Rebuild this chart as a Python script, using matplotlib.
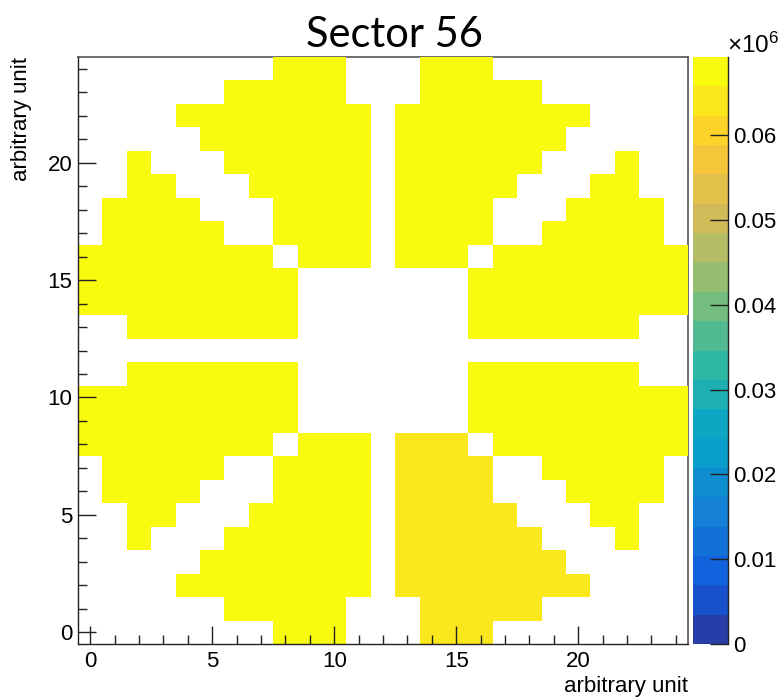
import numpy as np
import matplotlib
matplotlib.use('Agg')
import matplotlib.pyplot as plt
from matplotlib.colors import LinearSegmentedColormap, ListedColormap, BoundaryNorm
from matplotlib.ticker import MultipleLocator

plt.rcParams['font.family'] = ['Liberation Sans', 'DejaVu Sans']
plt.rcParams['mathtext.fontset'] = 'custom'
plt.rcParams['mathtext.rm'] = 'Liberation Sans'

# hit map of the sector, rows from y=24 (top) down to y=0
# '#' full rate, '+' slightly lower rate, '.' empty bin
grid_rows = [
    "........###...###........",  # 24
    "......#####...#####......",  # 23
    "....########.########....",  # 22
    ".....#######.#######.....",  # 21
    "..#...######.######...#..",  # 20
    "..##...#####.#####...##..",  # 19
    ".####...####.####...####.",  # 18
    ".#####..####.####..#####.",  # 17
    "########.###.###.########",  # 16
    "#########.......#########",  # 15
    "#########.......#########",  # 14
    "..#######.......#######..",  # 13
    ".........................",  # 12
    "..#######.......#######..",  # 11
    "#########.......#########",  # 10
    "#########.......#########",  # 9
    "########.###.+++.########",  # 8
    ".#####..####.++++..#####.",  # 7
    ".####...####.++++...####.",  # 6
    "..##...#####.+++++...##..",  # 5
    "..#...######.++++++...#..",  # 4
    ".....#######.+++++++.....",  # 3
    "....########.++++++++....",  # 2
    "......#####...+++++......",  # 1
    "........###...+++........",  # 0
]
rate_full = 69200
rate_low = 65000
z_max = 69200
n_contours = 20
cbar_ticks = [0, 10000, 20000, 30000, 40000, 50000, 60000]
cbar_labels = ['0', '0.01', '0.02', '0.03', '0.04', '0.05', '0.06']

cell_value = {'#': rate_full, '+': rate_low, '.': 0}
z = np.array([[cell_value[c] for c in row] for row in grid_rows[::-1]], dtype=float)
z = np.ma.masked_equal(z, 0)

# ROOT kBird palette
stops = [0.0, 0.125, 0.25, 0.375, 0.5, 0.625, 0.75, 0.875, 1.0]
red = [0.2082, 0.0592, 0.0780, 0.0232, 0.1802, 0.5301, 0.8186, 0.9956, 0.9764]
green = [0.1664, 0.3599, 0.5041, 0.6419, 0.7178, 0.7492, 0.7328, 0.7862, 0.9832]
blue = [0.5293, 0.8684, 0.8385, 0.7914, 0.6425, 0.4662, 0.3499, 0.1968, 0.0539]
bird = LinearSegmentedColormap.from_list('bird', list(zip(stops, zip(red, green, blue))), N=255)
band_colors = [bird(int((k + 0.99) * 255 / n_contours) / 254) for k in range(n_contours)]
cmap = ListedColormap(band_colors)
norm = BoundaryNorm(np.linspace(0, z_max, n_contours + 1), n_contours)

fig = plt.figure(figsize=(7.79, 6.97), dpi=100)
ax = fig.add_axes([78 / 779, 1 - 644 / 697, 610 / 779, 587 / 697])
edges = np.arange(-0.5, 25.0, 1.0)
mesh = ax.pcolormesh(edges, edges, z, cmap=cmap, norm=norm, zorder=1)

ax.set_xlim(-0.5, 24.5)
ax.set_ylim(-0.5, 24.5)
ax.set_xticks(range(0, 21, 5))
ax.set_yticks(range(0, 21, 5))
ax.xaxis.set_minor_locator(MultipleLocator(1))
ax.yaxis.set_minor_locator(MultipleLocator(1))
ax.tick_params(which='both', direction='in', top=False, right=False,
               color='#222222', width=1, labelsize=16)
ax.tick_params(which='major', length=13)
ax.tick_params(which='minor', length=6.5)
ax.tick_params(axis='x', pad=5)
ax.tick_params(axis='y', pad=4)
for side in ['left', 'bottom']:
    ax.spines[side].set_color('#222222')
    ax.spines[side].set_linewidth(1)
for side in ['top', 'right']:
    ax.spines[side].set_color('#555555')
    ax.spines[side].set_linewidth(1.2)
    ax.spines[side].set_zorder(0.5)

ax.set_xlabel('arbitrary unit', fontsize=16, loc='right')
ax.xaxis.set_label_coords(1.0, -0.054)
ax.set_ylabel('arbitrary unit', fontsize=16, loc='top')
ax.yaxis.set_label_coords(-0.075, 1.0)

cax = fig.add_axes([693 / 779, 1 - 644 / 697, 35 / 779, 587 / 697])
cb = fig.colorbar(mesh, cax=cax, ticks=cbar_ticks)
cb.set_ticklabels(cbar_labels)
cb.minorticks_off()
cb.outline.set_visible(False)
cax.tick_params(direction='in', length=13, width=1, color='#222222', labelsize=16, pad=4)
cax.plot([1, 1], [0, 1], transform=cax.transAxes, color='#222222', lw=1, clip_on=False)
fig.text(727 / 779, 1 - 53 / 697, r'$\times\mathregular{10^{6}}$', ha='left', va='baseline', fontsize=17.5)

fig.text(394 / 779, 1 - 47 / 697, 'Sector 56', ha='center', va='baseline', family='Lato', fontsize=30)

fig.savefig('out.png', dpi=100)
